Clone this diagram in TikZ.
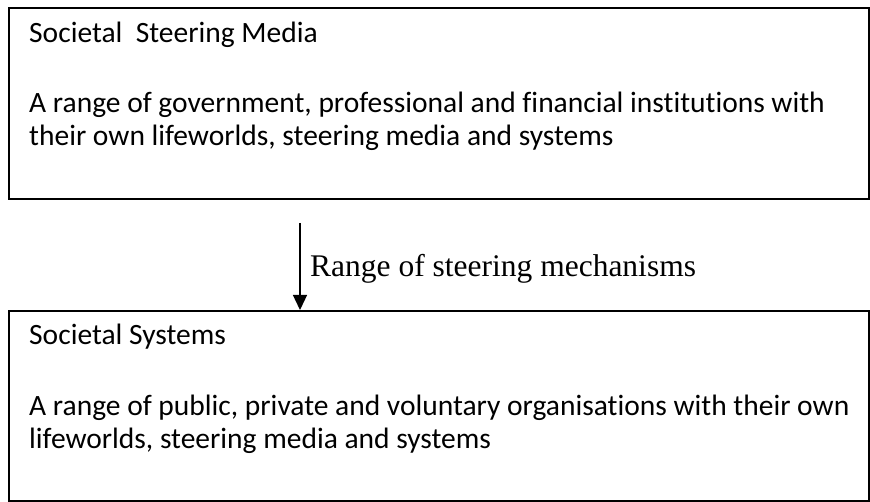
\documentclass[tikz,border=0pt]{standalone}
\usepackage{fontspec}
\setmainfont{Carlito}[Ligatures=NoCommon]
\newfontfamily\mechfont{Liberation Serif}
\usetikzlibrary{arrows.meta,positioning}
\newcommand{\boxfont}{\fontsize{29.5}{32}\selectfont}

\begin{document}
\begin{tikzpicture}[x=1pt,y=-1pt,
		panel/.style={draw, line width=1.6pt, anchor=north west, inner sep=0pt, minimum width=860pt},
		line/.style={anchor=base west, inner sep=0pt, font=\boxfont}]
	\useasboundingbox (0,0) rectangle (870,502);
	% the two boxes
	\node[panel, minimum height=191pt] (media) at (8,7) {};
	\node[panel, minimum height=190pt] (systems) at (8,310) {};
	% texts of the upper box
	\node[line] (media-h) at (29,43) {Societal\ \ Steering Media};
	\node[line] (media-a) at (29,113) {A range of government, professional and financial institutions with};
	\node[line] (media-b) at (29,146) {their own lifeworlds, steering media and systems};
	% texts of the lower box
	\node[line] (systems-h) at (29,345) {Societal Systems};
	\node[line] (systems-a) at (29,415) {A range of public, private and voluntary organisations with their own};
	\node[line] (systems-b) at (29,448) {lifeworlds, steering media and systems};
	% steering arrow
	\coordinate (from) at (300,223);
	\draw[-{Triangle[length=15pt,width=14pt]}, line width=1.3pt] (from) -- (from |- systems.north);
	\node[anchor=base west, inner sep=0pt, font=\mechfont\fontsize{31.5}{36}\selectfont] (mech) at (310,277) {Range of steering mechanisms};
\end{tikzpicture}
\end{document}
